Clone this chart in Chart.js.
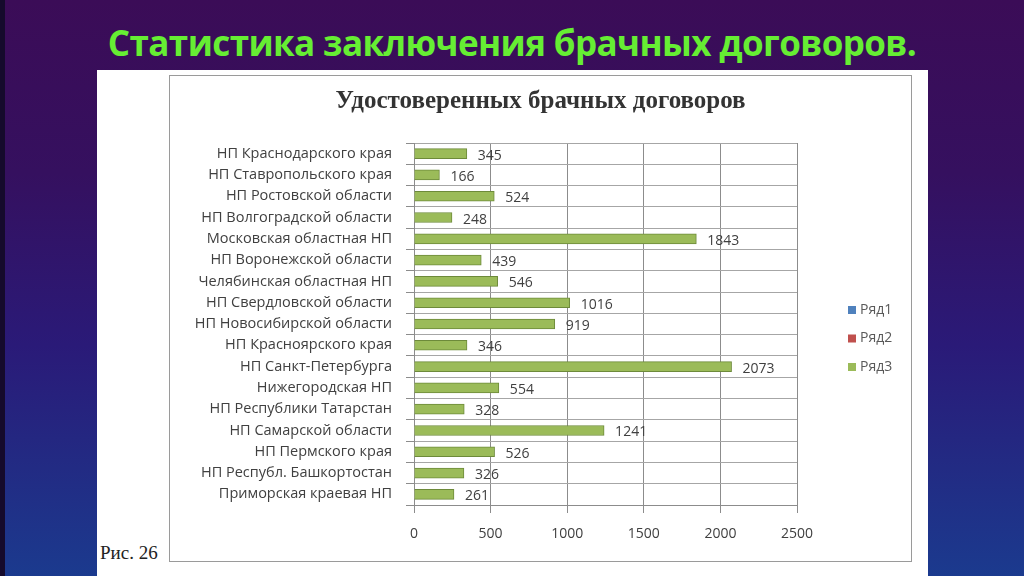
<!DOCTYPE html>
<html>
<head>
<meta charset="utf-8">
<script src="https://cdn.jsdelivr.net/npm/chart.js@4.4.1/dist/chart.umd.min.js"></script>
<style>
  html, body { margin: 0; padding: 0; }
  body {
    width: 1024px; height: 576px; overflow: hidden; position: relative;
    background: linear-gradient(180deg, #3b0c57 0%, #35105f 30%, #2a1a78 60%, #1b3a8e 100%);
  }
  #edge { position: absolute; left: 0; top: 0; width: 5px; height: 576px; background: #150a2c; }
  #heading {
    position: absolute; left: 0; top: 19px; width: 1024px; text-align: center;
    font-family: "Open Sans", sans-serif; font-weight: bold; font-size: 35px;
    color: #66ee33; letter-spacing: -0.6px;
  }
  #sheet { position: absolute; left: 97px; top: 70px; width: 831px; height: 506px; background: #fff; }
  #frame {
    position: absolute; left: 72px; top: 5px; width: 743px; height: 487px;
    border: 1px solid #9a9a9a; box-sizing: border-box;
  }
  #chartCanvas { display: block; }
  #fig {
    position: absolute; left: 3px; top: 472px;
    font-family: "Liberation Serif", serif; font-size: 19px; color: #222;
  }
</style>
</head>
<body>
<div id="edge"></div>
<div id="heading">Статистика заключения брачных договоров.</div>
<div id="sheet">
  <div id="frame"><canvas id="chartCanvas" width="741" height="485"></canvas></div>
  <div id="fig">Рис. 26</div>
</div>
<script>
const chartTitle = 'Удостоверенных брачных договоров';
const regions = [
  'НП Краснодарского края',
  'НП Ставропольского края',
  'НП Ростовской области',
  'НП Волгоградской области',
  'Московская областная НП',
  'НП Воронежской области',
  'Челябинская областная НП',
  'НП Свердловской области',
  'НП Новосибирской области',
  'НП Красноярского края',
  'НП Санкт-Петербурга',
  'Нижегородская НП',
  'НП Республики Татарстан',
  'НП Самарской области',
  'НП Пермского края',
  'НП Республ. Башкортостан',
  'Приморская краевая НП'
];
const series1 = [];
const series2 = [];
const series3 = [345, 166, 524, 248, 1843, 439, 546, 1016, 919, 346, 2073, 554, 328, 1241, 526, 326, 261];
const seriesNames = ['Ряд1', 'Ряд2', 'Ряд3'];
const seriesColors = ['#4f81bd', '#c0504d', '#9bbb59'];
const xTicks = [0, 500, 1000, 1500, 2000, 2500];

const valueLabels = {
    id: 'valueLabels',
    afterDatasetsDraw(chart) {
        const ctx = chart.ctx;
        const meta = chart.getDatasetMeta(2);
        ctx.save();
        ctx.font = '14px "Open Sans", sans-serif';
        ctx.fillStyle = '#404040';
        ctx.textBaseline = 'middle';
        meta.data.forEach((bar, i) => {
            ctx.fillText(String(series3[i]), bar.x + 11, bar.y + 2);
        });
        ctx.restore();
    }
};

const sideLegend = {
    id: 'sideLegend',
    afterDraw(chart) {
        const ctx = chart.ctx;
        const left = chart.chartArea.right + 51;
        ctx.save();
        ctx.font = '14px "Open Sans", sans-serif';
        ctx.textBaseline = 'middle';
        chart.data.datasets.forEach((ds, i) => {
            const y = 234 + i * 28.5;
            ctx.fillStyle = ds.backgroundColor;
            ctx.fillRect(left, y - 4, 8, 8);
            ctx.fillStyle = '#595959';
            ctx.fillText(ds.label, left + 12, y);
        });
        ctx.restore();
    }
};

const ctx = document.getElementById('chartCanvas').getContext('2d');
new Chart(ctx, {
    type: 'bar',
    data: {
        labels: regions,
        datasets: [series1, series2, series3].map((data, i) => ({
            label: seriesNames[i],
            data: data,
            backgroundColor: seriesColors[i],
            borderColor: '#6d8a3a',
            borderWidth: 1,
            borderSkipped: 'left',
            barThickness: 10,
            grouped: false
        }))
    },
    options: {
        indexAxis: 'y',
        responsive: false,
        animation: false,
        devicePixelRatio: 1,
        scales: {
            x: {
                min: 0,
                max: 2500,
                afterBuildTicks: axis => { axis.ticks = xTicks.map(v => ({ value: v })); },
                afterFit: axis => { axis.height = 56; },
                grid: { color: '#8c8c8c', tickLength: 8, tickColor: '#8c8c8c' },
                border: { color: '#8c8c8c' },
                ticks: {
                    color: '#404040', font: { family: 'Open Sans', size: 14 }, padding: 13, maxRotation: 0,
                    callback: v => String(v)
                }
            },
            y: {
                afterFit: axis => { axis.width = 244; },
                grid: { offset: true, color: '#a6a6a6', tickLength: 8, tickColor: '#8c8c8c' },
                border: { color: '#8c8c8c' },
                ticks: { color: '#404040', font: { family: 'Open Sans', size: 14.5 }, padding: 14, autoSkip: false }
            },
            // empty axis on the right that keeps room for the legend
            legendRoom: {
                type: 'linear',
                position: 'right',
                afterFit: axis => { axis.width = 114; },
                grid: { display: false },
                border: { display: false },
                ticks: { display: false }
            }
        },
        plugins: {
            legend: { display: false },
            tooltip: { enabled: false },
            title: {
                display: true,
                text: chartTitle,
                color: '#333333',
                font: { family: '"Liberation Serif", serif', size: 25, weight: 'bold' },
                padding: { top: 11, bottom: 26 }
            }
        }
    },
    plugins: [valueLabels, sideLegend]
});
</script>
</body>
</html>
